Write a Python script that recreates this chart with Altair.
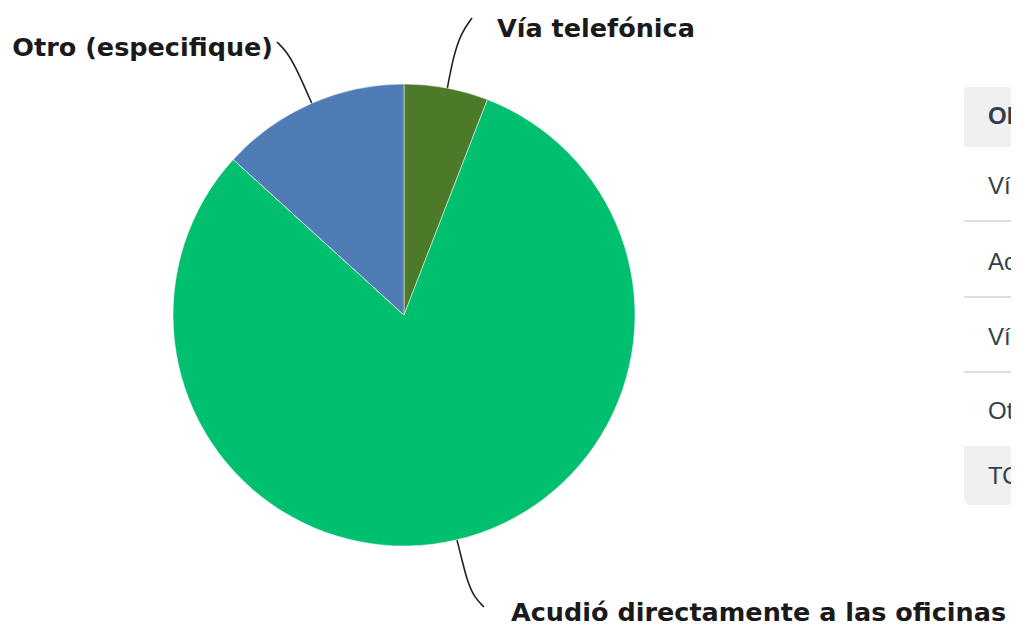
import altair as alt
import pandas as pd

# ---- data ----
categories = ["Vía telefónica", "Acudió directamente a las oficinas",
              "Vía correo electrónico", "Otro (especifique)"]
percent = [5.88, 80.88, 0.00, 13.24]
colors = ["#4d7a28", "#00bf6f", "#f9be00", "#507cb6"]
table_header = "OPCIONES DE RESPUESTA"
table_total = "TOTAL"

# ---- layout (page pixels minus 8px margin) ----
W, H = 1003, 614
OFF = 8
cx, cy, R = 404 - OFF, 315 - OFF, 231

pie_df = pd.DataFrame({"cat": categories, "pct": percent, "idx": list(range(len(categories)))})

xs = alt.Scale(domain=[0, W], range=[0, W])
ys = alt.Scale(domain=[0, H], range=[0, H])

pie = alt.Chart(pie_df).mark_arc(outerRadius=R, stroke="white", strokeWidth=0.5).encode(
    theta=alt.Theta("pct:Q", stack=True),
    order=alt.Order("idx:Q"),
    color=alt.Color("cat:N", scale=alt.Scale(domain=categories, range=colors), legend=None),
    x=alt.value(cx), y=alt.value(cy),
)

# labels
LABEL_FONT = "DejaVu Sans"
LABEL_SIZE = 25.5
lab_df = pd.DataFrame({
    "text": [categories[0], categories[1], categories[3]],
    "x": [497 - OFF, 511 - OFF, 273 - OFF],
    "y": [37 - OFF, 621 - OFF, 56 - OFF],
    "al": ["left", "left", "right"],
})
labels_left = alt.Chart(lab_df[lab_df["al"] == "left"]).mark_text(
    align="left", baseline="alphabetic", font=LABEL_FONT, fontWeight="bold", fontSize=LABEL_SIZE,
    color="#1a1a1a"
).encode(x=alt.X("x:Q", scale=xs, axis=None), y=alt.Y("y:Q", scale=ys, axis=None), text="text:N")
labels_right = alt.Chart(lab_df[lab_df["al"] == "right"]).mark_text(
    align="right", baseline="alphabetic", font=LABEL_FONT, fontWeight="bold", fontSize=LABEL_SIZE,
    color="#1a1a1a"
).encode(x=alt.X("x:Q", scale=xs, axis=None), y=alt.Y("y:Q", scale=ys, axis=None), text="text:N")

# leader lines
lead_pts = {
    "tel": [(472, 18), (461, 33), (453, 58), (447, 90)],
    "acu": [(457, 540), (462, 560), (467, 580), (474, 597), (484, 607)],
    "otr": [(277, 42), (287, 52), (296, 68), (305, 88), (313, 106)],
}
rows = []
for k, pts in lead_pts.items():
    for i, (px, py) in enumerate(pts):
        rows.append({"k": k, "i": i, "x": px - OFF, "y": py - OFF})
lead_df = pd.DataFrame(rows)
leaders = alt.Chart(lead_df).mark_line(color="#222222", strokeWidth=1.6, interpolate="basis").encode(
    x=alt.X("x:Q", scale=xs, axis=None), y=alt.Y("y:Q", scale=ys, axis=None),
    detail="k:N", order="i:Q",
)

# table
tx0 = 964 - OFF
bg_df = pd.DataFrame({"x": [tx0, tx0], "x2": [W + 40, W + 40],
                      "y": [87 - OFF, 446 - OFF], "y2": [147 - OFF, 505 - OFF], "r": ["h", "t"]})
bg_h = alt.Chart(bg_df[bg_df["r"] == "h"]).mark_rect(color="#eff0f0", cornerRadiusTopLeft=4).encode(
    x=alt.X("x:Q", scale=xs, axis=None), x2="x2:Q", y=alt.Y("y:Q", scale=ys, axis=None), y2="y2:Q")
bg_t = alt.Chart(bg_df[bg_df["r"] == "t"]).mark_rect(color="#eff0f0", cornerRadiusBottomLeft=6).encode(
    x=alt.X("x:Q", scale=xs, axis=None), x2="x2:Q", y=alt.Y("y:Q", scale=ys, axis=None), y2="y2:Q")

sep_df = pd.DataFrame({"x": [tx0] * 3, "x2": [W + 40] * 3, "y": [221 - OFF, 297 - OFF, 372 - OFF]})
seps = alt.Chart(sep_df).mark_rule(color="#d0d3d4", strokeWidth=1.5).encode(
    x=alt.X("x:Q", scale=xs, axis=None), x2="x2:Q", y=alt.Y("y:Q", scale=ys, axis=None))

head_df = pd.DataFrame({"text": [table_header], "x": [988 - OFF], "y": [117 - OFF]})
head = alt.Chart(head_df).mark_text(
    align="left", baseline="middle", font="Liberation Sans", fontWeight="bold", fontSize=24, color="#333e48"
).encode(x=alt.X("x:Q", scale=xs, axis=None), y=alt.Y("y:Q", scale=ys, axis=None), text="text:N")

row_df = pd.DataFrame({"text": categories + [table_total],
                       "x": [988 - OFF] * 5,
                       "y": [187 - OFF, 263 - OFF, 338 - OFF, 412 - OFF, 477 - OFF]})
row_txt = alt.Chart(row_df).mark_text(
    align="left", baseline="middle", font="Liberation Sans", fontSize=24, color="#333e48"
).encode(x=alt.X("x:Q", scale=xs, axis=None), y=alt.Y("y:Q", scale=ys, axis=None), text="text:N")

chart = alt.layer(bg_h, bg_t, seps, head, row_txt, leaders, pie, labels_left, labels_right).properties(
    width=W, height=H, autosize=alt.AutoSizeParams(type="none"), padding=0
).configure_view(stroke=None)

chart.save("out.html", embed_options={"renderer": "svg", "actions": False})
